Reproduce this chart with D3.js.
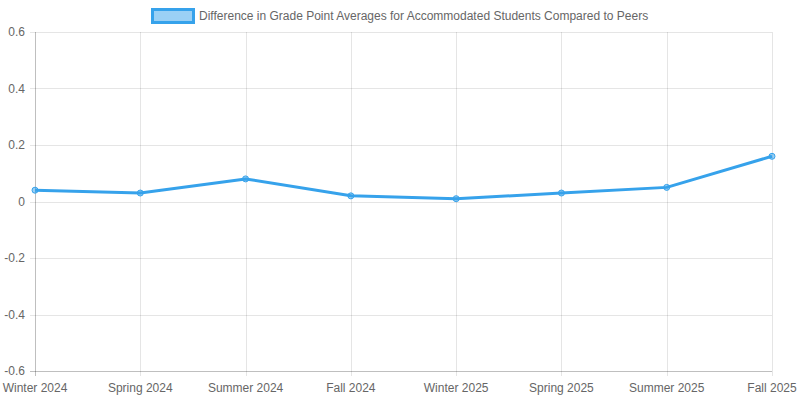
<!DOCTYPE html>
<html>
<head>
<meta charset="utf-8">
<script src="https://cdn.jsdelivr.net/npm/d3@7"></script>
<style>
  body { margin: 0; background: #fff; }
  svg text { font-family: "Liberation Sans", Arial, Helvetica, sans-serif; fill: #666; font-size: 12px; }
</style>
</head>
<body>
<script>
// chart values
var terms = ["Winter 2024", "Spring 2024", "Summer 2024", "Fall 2024",
             "Winter 2025", "Spring 2025", "Summer 2025", "Fall 2025"];
var gpaDiff = [0.04, 0.03, 0.08, 0.02, 0.01, 0.03, 0.05, 0.16];
var yTicks = [-0.6, -0.4, -0.2, 0, 0.2, 0.4, 0.6];
var seriesLabel = "Difference in Grade Point Averages for Accommodated Students Compared to Peers";

var width = 800, height = 400,
  margin = {top: 32, right: 28, bottom: 29, left: 35};

var svg = d3.select("body")
  .append("svg")
  .attr("width", width)
  .attr("height", height);

var x = d3.scalePoint()
  .domain(terms)
  .range([margin.left, width - margin.right]);

var y = d3.scaleLinear()
  .domain([-0.6, 0.6])
  .range([height - margin.bottom, margin.top]);

// grid lines
var grid = svg.append("g");
grid.selectAll(".hgrid")
  .data(yTicks)
  .enter()
  .append("line")
  .attr("x1", margin.left - 5)
  .attr("x2", width - margin.right)
  .attr("y1", function(d) { return Math.round(y(d)) + 0.5; })
  .attr("y2", function(d) { return Math.round(y(d)) + 0.5; })
  .attr("stroke", function(d) { return d === -0.6 ? "rgba(0,0,0,0.25)" : "rgba(0,0,0,0.1)"; });

grid.selectAll(".vgrid")
  .data(terms)
  .enter()
  .append("line")
  .attr("x1", function(d) { return Math.round(x(d)) + 0.5; })
  .attr("x2", function(d) { return Math.round(x(d)) + 0.5; })
  .attr("y1", margin.top)
  .attr("y2", height - margin.bottom + 5)
  .attr("stroke", function(d, i) { return i === 0 ? "rgba(0,0,0,0.25)" : "rgba(0,0,0,0.1)"; });

// y labels (plain hyphen minus like the original)
svg.append("g")
  .selectAll("text")
  .data(yTicks)
  .enter()
  .append("text")
  .attr("x", margin.left - 10)
  .attr("y", function(d) { return y(d); })
  .attr("dy", "0.35em")
  .attr("text-anchor", "end")
  .text(function(d) { return String(d); });

// x labels
svg.append("g")
  .selectAll("text")
  .data(terms)
  .enter()
  .append("text")
  .attr("x", function(d) { return x(d); })
  .attr("y", height - margin.bottom + 17)
  .attr("dy", "0.35em")
  .attr("text-anchor", "middle")
  .text(function(d) { return d; });

// series line
var line = d3.line()
  .x(function(d, i) { return x(terms[i]); })
  .y(function(d) { return y(d); });

svg.append("path")
  .datum(gpaDiff)
  .attr("d", line)
  .attr("fill", "none")
  .attr("stroke", "#36a2eb")
  .attr("stroke-width", 3)
  .attr("stroke-linejoin", "round");

svg.append("g")
  .selectAll("circle")
  .data(gpaDiff)
  .enter()
  .append("circle")
  .attr("cx", function(d, i) { return x(terms[i]); })
  .attr("cy", function(d) { return y(d); })
  .attr("r", 3)
  .attr("fill", "rgba(54,162,235,0.5)")
  .attr("stroke", "#36a2eb")
  .attr("stroke-width", 1);

// legend
var legend = svg.append("g");
var legendText = legend.append("text")
  .attr("y", 16)
  .attr("dy", "0.35em")
  .text(seriesLabel);
var tw = legendText.node().getComputedTextLength();
var boxW = 44, gap = 4;
var startX = Math.round((width - (boxW + gap + tw)) / 2);
legend.append("rect")
  .attr("x", startX + 1.5)
  .attr("y", 9.5)
  .attr("width", boxW - 3)
  .attr("height", 13)
  .attr("fill", "rgba(54,162,235,0.5)")
  .attr("stroke", "#36a2eb")
  .attr("stroke-width", 3);
legendText.attr("x", startX + boxW + gap);
</script>
</body>
</html>
